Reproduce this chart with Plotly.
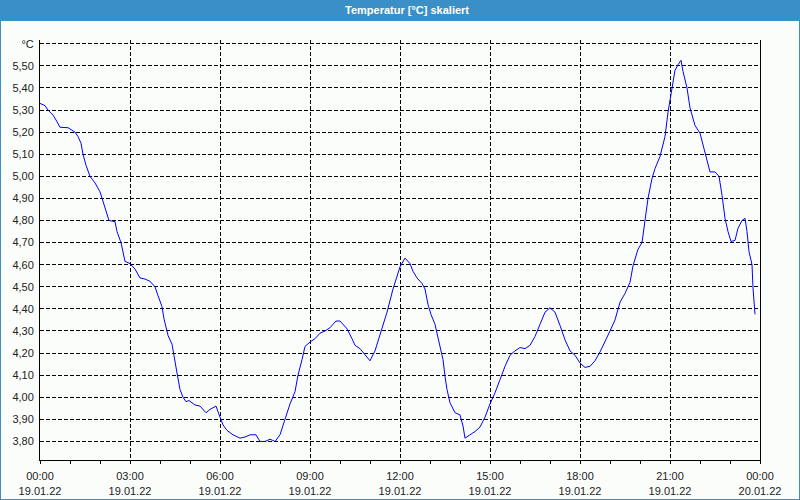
import plotly.graph_objects as go
import pandas as pd

# minutes after 19.01.22 00:00
minutes = [0, 10, 16, 26, 32, 40, 56, 70, 76, 82, 86, 92, 100, 110, 120, 124, 130, 138, 150, 154,
           162, 166, 170, 180, 190, 200, 210, 220, 230, 236, 244, 248, 252, 256, 264, 270, 274, 280,
           286, 292, 298, 310, 320, 332, 340, 352, 354, 360, 366, 374, 386, 400, 410, 420, 432, 440,
           450, 460, 470, 480, 490, 500, 510, 516, 524, 530, 540, 550, 560, 570, 580, 592, 600, 614,
           624, 630, 640, 650, 660, 670, 680, 694, 706, 720, 730, 740, 746, 754, 764, 770, 776, 782,
           790, 794, 800, 806, 810, 814, 820, 830, 840, 846, 850, 860, 870, 880, 890, 900, 910, 920,
           930, 940, 950, 960, 970, 980, 990, 1000, 1010, 1020, 1030, 1040, 1050, 1060, 1070, 1080,
           1090, 1100, 1110, 1120, 1130, 1140, 1150, 1160, 1170, 1180, 1186, 1196, 1204, 1210, 1216,
           1224, 1230, 1240, 1250, 1256, 1264, 1270, 1276, 1282, 1286, 1294, 1300, 1310, 1320, 1326,
           1334, 1340, 1350, 1358, 1364, 1370, 1376, 1382, 1390, 1396, 1404, 1410, 1414, 1418, 1424,
           1426, 1430]
temps = [5.33, 5.32, 5.30, 5.277, 5.255, 5.222, 5.22, 5.20, 5.18, 5.15, 5.10, 5.05, 5.00, 4.97, 4.93,
         4.90, 4.85, 4.80, 4.795, 4.75, 4.70, 4.66, 4.615, 4.605, 4.58, 4.54, 4.535, 4.525, 4.50, 4.46,
         4.41, 4.355, 4.31, 4.28, 4.24, 4.17, 4.11, 4.035, 4.00, 3.98, 3.985, 3.965, 3.96, 3.93, 3.945,
         3.96, 3.945, 3.91, 3.875, 3.85, 3.83, 3.815, 3.82, 3.83, 3.83, 3.80, 3.80, 3.81, 3.80, 3.83,
         3.90, 3.97, 4.025, 4.10, 4.17, 4.23, 4.25, 4.265, 4.29, 4.30, 4.315, 4.345, 4.345, 4.31,
         4.265, 4.235, 4.22, 4.19, 4.165, 4.21, 4.285, 4.385, 4.49, 4.59, 4.63, 4.605, 4.57, 4.54,
         4.515, 4.49, 4.42, 4.375, 4.33, 4.29, 4.245, 4.17, 4.095, 4.035, 3.975, 3.93, 3.92, 3.87,
         3.815, 3.83, 3.845, 3.865, 3.91, 3.97, 4.02, 4.08, 4.14, 4.19, 4.21, 4.225, 4.22, 4.235,
         4.275, 4.33, 4.385, 4.405, 4.385, 4.325, 4.26, 4.21, 4.19, 4.155, 4.135, 4.14, 4.165, 4.205,
         4.25, 4.30, 4.35, 4.43, 4.47, 4.52, 4.595, 4.67, 4.70, 4.805, 4.90, 4.99, 5.035, 5.09, 5.18,
         5.29, 5.40, 5.48, 5.505, 5.525, 5.475, 5.40, 5.31, 5.23, 5.195, 5.14, 5.075, 5.02, 5.02, 5.00,
         4.915, 4.81, 4.75, 4.705, 4.71, 4.765, 4.80, 4.81, 4.75, 4.66, 4.60, 4.495, 4.375]

x_tick_hours = [0, 3, 6, 9, 12, 15, 18, 21, 24]
x_tick_labels = ["00:00<br>19.01.22", "03:00<br>19.01.22", "06:00<br>19.01.22", "09:00<br>19.01.22",
                 "12:00<br>19.01.22", "15:00<br>19.01.22", "18:00<br>19.01.22", "21:00<br>19.01.22",
                 "00:00<br>20.01.22"]
y_tick_vals = [3.8, 3.9, 4.0, 4.1, 4.2, 4.3, 4.4, 4.5, 4.6, 4.7, 4.8, 4.9, 5.0, 5.1, 5.2, 5.3, 5.4, 5.5, 5.6]
y_tick_labels = ["3,80", "3,90", "4,00", "4,10", "4,20", "4,30", "4,40", "4,50", "4,60", "4,70",
                 "4,80", "4,90", "5,00", "5,10", "5,20", "5,30", "5,40", "5,50", "°C"]
title_text = "Temperatur [°C] skaliert"

base = pd.Timestamp("2022-01-19 00:00")
xs = [base + pd.Timedelta(minutes=m) for m in minutes]
tick_x = [base + pd.Timedelta(hours=h) for h in x_tick_hours]

FONT = "Liberation Sans"
BLUE_FRAME = "#3B8FC7"
INNER = "#FBFDFB"

fig = go.Figure()
fig.add_trace(go.Scatter(x=xs, y=temps, mode="lines",
                         line=dict(color="#0000FF", width=1), hoverinfo="skip"))

W, H = 800, 500
L, R, T, B = 40, 40, 40, 40
pw, ph = W - L - R, H - T - B

def px_x(p):
    return (p - L) / pw

def px_y(p):
    return (H - B - p) / ph

fig.update_layout(
    width=W, height=H,
    margin=dict(l=L, r=R, t=T, b=B, pad=0, autoexpand=False),
    paper_bgcolor=BLUE_FRAME,
    plot_bgcolor=INNER,
    showlegend=False,
    font=dict(family=FONT, size=11, color="#222222"),
    shapes=[
        dict(type="rect", xref="paper", yref="paper", layer="below",
             x0=px_x(1), x1=px_x(799), y0=px_y(499), y1=px_y(21),
             fillcolor=INNER, line=dict(width=0)),
    ],
    annotations=[
        dict(text="<b>" + title_text + "</b>", xref="paper", yref="paper",
             x=px_x(407), y=px_y(10), xanchor="center", yanchor="middle",
             showarrow=False, font=dict(family=FONT, size=11, color="white")),
    ],
)

fig.update_xaxes(
    range=[base, base + pd.Timedelta(hours=24)],
    automargin=False,
    tickmode="array", tickvals=tick_x, ticktext=x_tick_labels,
    showline=True, linecolor="black", linewidth=1,
    ticks="outside", ticklen=3, tickcolor="black", ticklabelstandoff=3,
    minor=dict(dtick=3600000, tick0=base, ticks="outside", ticklen=3, tickcolor="black", showgrid=False),
    showgrid=True, gridcolor="black", gridwidth=1, griddash="4px,2px",
    zeroline=False, mirror=False,
)
fig.update_yaxes(
    range=[3.716, 5.617],
    automargin=False,
    tickmode="array", tickvals=y_tick_vals, ticktext=y_tick_labels,
    showline=True, linecolor="black", linewidth=1, mirror=True,
    ticks="", ticklabelstandoff=3,
    showgrid=True, gridcolor="black", gridwidth=1, griddash="4px,2px",
    zeroline=False,
)

fig.write_html("out.html")
